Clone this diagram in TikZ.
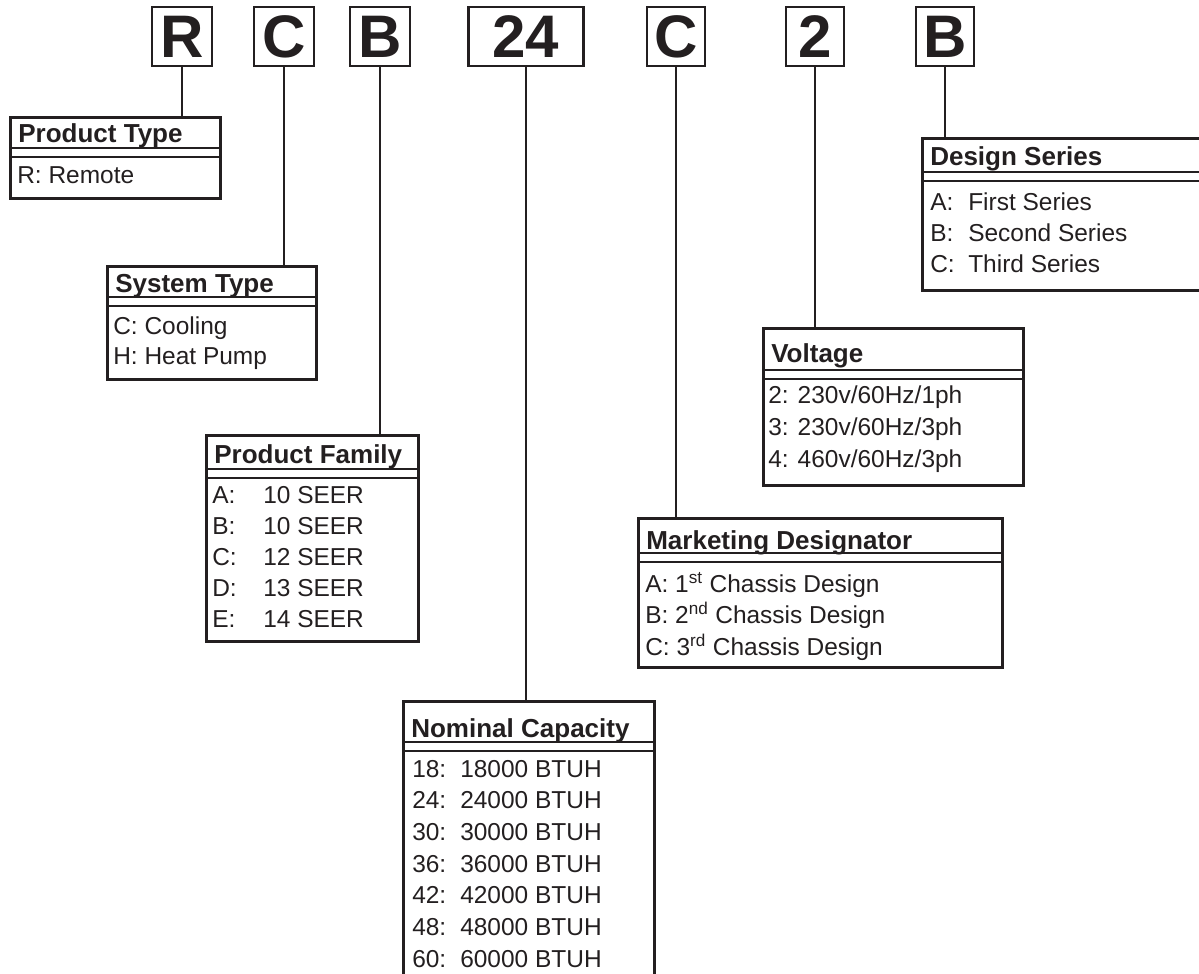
\documentclass[tikz,border=0pt]{standalone}
\usepackage{fontspec}
\setmainfont{Liberation Sans}
\definecolor{ink}{RGB}{35,31,32}
\tikzset{
  codebox/.style={draw=ink, text=ink, line width=1.9pt, minimum height=1.475cm, inner sep=0pt, font=\fontsize{42.7}{44}\selectfont\bfseries},
  infobox/.style={draw=ink, line width=1.9pt, anchor=north west, inner sep=0pt},
  headtext/.style={anchor=base west, inner sep=0pt, text=ink, font=\fontsize{18.5}{20}\selectfont\bfseries},
  rowtext/.style={anchor=base west, inner sep=0pt, text=ink, font=\fontsize{17.4}{19}\selectfont},
  lead/.style={draw=ink, line width=1.65pt},
  headrule/.style={draw=ink, line width=1pt}
}
% box, header and double rule: name, left, top, right, bottom, header base, rule, title
\newcommand{\infobox}[8]{%
  \node[infobox, minimum width={(#4-#2)*0.025cm}, minimum height={(#5-#3)*0.025cm}] (#1) at (#2,#3) {};
  \node[headtext] (#1-head) at ({#2+9},#6) {#8};
  \draw[headrule] (#2,#7) -- (#4,#7);
  \draw[headrule] (#2,{#7+9}) -- (#4,{#7+9});
}
\begin{document}
\begin{tikzpicture}[x=0.025cm, y=-0.025cm]
  \useasboundingbox (0,0) rectangle (1199,974);
  \clip (0,0) rectangle (1199,974);
  % model code letters
  \foreach \c/\x/\w [count=\n] in {R/182/1.5, C/284/1.5, B/380/1.5, 24/526/2.875, C/676/1.45, 2/815/1.45, B/945/1.45} {
    \node[codebox, minimum width=\w cm] (c\n) at (\x,36.5) {\c};
  }
  % boxes
  \infobox{ptype}{9}{116}{219}{197}{142}{148}{Product Type}
  \foreach \t [count=\i] in {R: Remote} {
    \node[rowtext] (ptype-\i) at (17,{183+(\i-1)*31.5}) {\t};
  }
  \infobox{stype}{106}{265}{315}{378}{292}{297}{System Type}
  \foreach \t [count=\i] in {C: Cooling, H: Heat Pump} {
    \node[rowtext] (stype-\i) at (113,{334+(\i-1)*30}) {\t};
  }
  \infobox{pfam}{205}{434}{417}{640}{463}{469}{Product Family}
  \foreach \a/\b [count=\i] in {A:/10 SEER, B:/10 SEER, C:/12 SEER, D:/13 SEER, E:/14 SEER} {
    \node[rowtext] (pfam-a\i) at (212,{503+(\i-1)*31}) {\a};
    \node[rowtext] (pfam-b\i) at (263,{503+(\i-1)*31}) {\b};
  }
  \infobox{ncap}{402}{700}{653}{1000}{737}{742}{Nominal Capacity}
  \foreach \a/\b [count=\i] in {18:/18000 BTUH, 24:/24000 BTUH, 30:/30000 BTUH, 36:/36000 BTUH, 42:/42000 BTUH, 48:/48000 BTUH, 60:/60000 BTUH} {
    \node[rowtext] (ncap-a\i) at (412,{777+(\i-1)*31.67}) {\a};
    \node[rowtext] (ncap-b\i) at (460,{777+(\i-1)*31.67}) {\b};
  }
  \infobox{mdes}{637}{517}{1001}{666}{549}{553}{Marketing Designator}
  \foreach \t [count=\i] in {A: 1\textsuperscript{st} Chassis Design, B: 2\textsuperscript{nd} Chassis Design, C: 3\textsuperscript{rd} Chassis Design} {
    \node[rowtext] (mdes-\i) at (645,{592+(\i-1)*31.5}) {\t};
  }
  \infobox{volt}{762}{327}{1022}{484}{362}{370}{Voltage}
  \foreach \t [count=\i] in {2: 230v/60Hz/1ph, 3: 230v/60Hz/3ph, 4: 460v/60Hz/3ph} {
    \node[rowtext] (volt-\i) at (768,{403+(\i-1)*32}) {\t};
  }
  \infobox{dser}{921}{137}{1230}{289}{165}{172}{Design Series}
  \foreach \a/\b [count=\i] in {A:/First Series, B:/Second Series, C:/Third Series} {
    \node[rowtext] (dser-a\i) at (930,{210+(\i-1)*31}) {\a};
    \node[rowtext] (dser-b\i) at (968,{210+(\i-1)*31}) {\b};
  }
  % leads
  \foreach \n/\b in {1/ptype, 2/stype, 3/pfam, 4/ncap, 5/mdes, 6/volt, 7/dser} {
    \draw[lead] (c\n) -- (c\n |- \b.north);
  }
\end{tikzpicture}
\end{document}
